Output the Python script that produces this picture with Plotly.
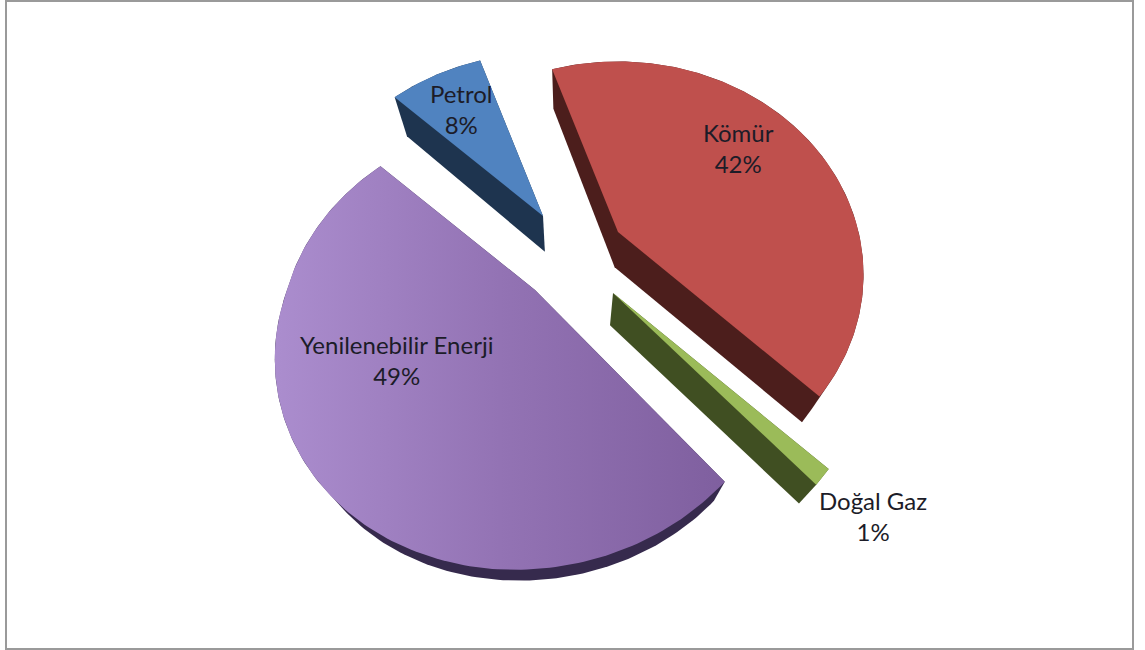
import math
import plotly.graph_objects as go

categories = ["Kömür", "Doğal Gaz", "Yenilenebilir Enerji", "Petrol"]
values = [42.45, 1.15, 48.7, 7.7]

# look of each slice
top_colors = ["#bf504d", "#9bbb59", None, "#5083c0"]
wall_colors = ["#4c1e1c", "#404f22", "#362a4d", "#1e344f"]
purple_scale = [[0, "#ab8dce"], [0.5, "#9373b4"], [1, "#7f5f9f"]]

# layout of the exploded, tilted pie (pixels of the 1145x650 page)
START_DEG = -19.0
RX, RY = 248.0, 211.0
PERSP = [0.20, 0.246, 0.246, 0.246]
SHEAR = [0.0, 0.0, 0.07, 0.0]
APEX = [(618, 232), (613, 293), (535, 290), (543, 216)]
RADIUS = [0.97, 1.0, 1.0, 0.96]
LABELS = [(738, 148), (873, 516), (396, 360), (461, 109)]


def project(theta, r, apex, persp, shear):
    u, v = math.sin(theta), math.cos(theta)
    k = 1 / (1 + persp * v)
    return (apex[0] + r * RX * u * k + shear * r * RY * min(v, 0) * k,
            apex[1] - r * RY * v * k)


def lower(p):
    x, y = p
    return x - 0.07 * (x - 570), y + 40 - 0.00009 * y * y


def hull(points):
    pts = sorted(set(points))

    def half(seq):
        out = []
        for p in seq:
            while len(out) > 1 and (out[-1][0] - out[-2][0]) * (p[1] - out[-2][1]) - (out[-1][1] - out[-2][1]) * (p[0] - out[-2][0]) <= 0:
                out.pop()
            out.append(p)
        return out[:-1]

    return half(pts) + half(pts[::-1])


total = sum(values)
tops = []
angle = START_DEG
for val, apex, rad, persp, shear in zip(values, APEX, RADIUS, PERSP, SHEAR):
    sweep = val / total * 360
    steps = max(2, int(sweep))
    arc = [project(math.radians(angle + sweep * i / steps), rad, apex, persp, shear) for i in range(steps + 1)]
    tops.append([apex] + arc)
    angle += sweep

fig = go.Figure()

for name, poly, wall in zip(categories, tops, wall_colors):
    h = hull(poly + [lower(p) for p in poly])
    h.append(h[0])
    fig.add_trace(go.Scatter(x=[p[0] for p in h], y=[p[1] for p in h], mode="lines",
                             fill="toself", fillcolor=wall, line=dict(width=0, color=wall),
                             hoverinfo="skip", showlegend=False))

for name, val, poly, col in zip(categories, values, tops, top_colors):
    closed = poly + [poly[0]]
    style = dict(fillcolor=col) if col else dict(fillgradient=dict(type="horizontal", colorscale=purple_scale))
    fig.add_trace(go.Scatter(x=[p[0] for p in closed], y=[p[1] for p in closed], mode="lines",
                             fill="toself", line=dict(width=0), name=name,
                             hovertext=f"{name} {round(val)}%", hoverinfo="text", showlegend=False, **style))

for name, val, pos in zip(categories, values, LABELS):
    fig.add_annotation(x=pos[0], y=pos[1], text=f"{name}<br>{round(val)}%", showarrow=False,
                       font=dict(family="Lato", size=24, color="#1c1c28"), align="center")

fig.add_shape(type="rect", x0=6, y0=1, x1=1133, y1=649, line=dict(color="#9a9a9a", width=2), layer="below")

fig.update_xaxes(range=[0, 1145], visible=False, fixedrange=True)
fig.update_yaxes(range=[650, 0], visible=False, fixedrange=True)
fig.update_layout(width=1145, height=650, margin=dict(l=0, r=0, t=0, b=0),
                  paper_bgcolor="white", plot_bgcolor="white", showlegend=False)

fig.write_html("out.html", config=dict(displayModeBar=False),
               post_script="document.body.style.margin='0';document.body.style.overflow='hidden';")
